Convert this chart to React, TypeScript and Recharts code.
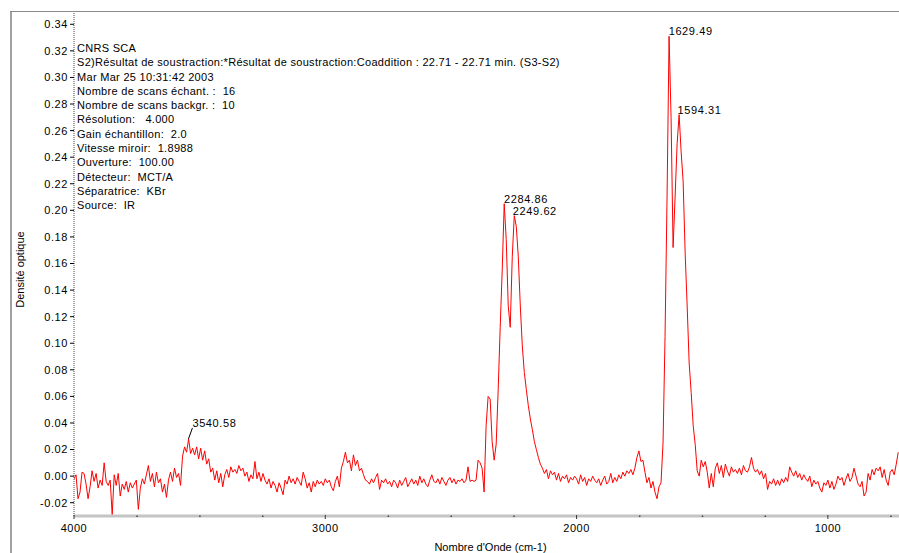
import React from 'react';
import { LineChart, Line, XAxis, YAxis, ReferenceDot } from 'recharts';

// Spectrum sampling: first wavenumber and spacing (cm-1)
const WAVENUMBER_START = 4000;
const WAVENUMBER_STEP = 8;

// Optical density in milli-units (x 0.001)
const region4000to3208 = [
  -2, 1, -17, -12, 3, 2, -6, -17, -8, 4,
  -4, 2, -9, -3, -7, 10, -4, -7, -3, -29,
  1, -7, 2, -15, -6, -10, -4, -12, -5, -9,
  -6, -3, -25, -9, -2, -6, 1, 8, -4, 2,
  -8, 3, -5, -2, -12, -6, -16, -3, 3, -4,
  6, -1, 2, -7, 15, 22, 18, 28, 17, 21,
  16, 22, 13, 21, 12, 19, 9, 13, 3, 6,
  -3, 4, -5, 2, -8, 1, 5, -1, 7, 3,
  5, 2, 8, 4, 6, 0, 3, -4, 1, -2,
  11, -2, 3, -4, 2, -3, -6, -2, -9, -4,
];
const region3200to2408 = [
  -7, -12, -5, -9, -14, -3, -6, 0, -5, -2,
  -6, -1, -4, -7, 3, -2, -9, -5, -12, -4,
  -8, -3, -6, -4, -7, -2, -5, -3, -8, -11,
  -4, 0, -8, 6, 11, 18, 10, 12, 4, 16,
  8, 12, 4, 6, 1, -3, -4, -6, -2, -5,
  -1, 2, -10, -3, -5, -2, -6, -4, -8, -3,
  -5, -9, -3, -7, -4, -1, -8, -5, -2, -6,
  -3, -7, 0, -5, -2, -6, -8, -3, 1, -4,
  -5, -2, -6, -1, -4, -7, -3, -1, -5, -2,
  -6, -3, -4, -2, -5, -3, 7, -4, -3, -4,
];
const region2400to2008 = [
  -3, 12, 10, 6, -12, 38, 60, 58, 26, 12,
  24, 65, 112, 155, 205, 178, 128, 112, 165, 196,
  188, 165, 128, 98, 78, 65, 53, 43, 35, 26,
  20, 14, 9, 6, 2, 5, -2, 4, 1, 3,
  -3, 2, -4, 0, -2, 1, -5, -1, -3, 0,
];
const region2000to1528 = [
  -2, -6, 1, -4, -1, -7, -2, -4, 0, -3,
  -5, -2, -7, -3, 0, -6, -4, 2, -5, -1,
  -4, 1, -2, 3, 0, 4, 2, 5, 1, 6,
  14, 19, 11, 12, 3, -5, -1, -9, -4, -12,
  -17, -8, -5, 25, 105, 210, 331, 270, 172, 210,
  250, 272, 244, 222, 168, 128, 85, 63, 38, 24,
];
const region1520to720 = [
  4, 0, 12, 7, 11, 3, -9, 2, -8, 6,
  10, 2, 8, -1, 9, 4, 0, 7, 3, 5,
  2, 6, 1, 8, 4, 3, 7, 14, 6, 3,
  5, 1, 4, -2, 2, -10, -4, -6, -2, -7,
  -3, -7, -2, -5, -1, -4, 7, 3, 0, 4,
  -1, 2, -3, 1, -2, -4, 0, -8, -3, -6,
  -4, -9, -12, -5, -7, -3, -9, -4, -10, -6,
  0, -3, -1, -7, -2, 2, -4, -1, 6, 0,
  -6, -8, -4, -15, -12, 2, -3, 5, 1, 6,
  4, 7, -1, 5, -3, -7, 3, 5, 1, 9, 18,
];

const peakWavenumbers = [3540.58, 2284.86, 2249.62, 1629.49, 1594.31];
const peakValues = [0.028, 0.205, 0.196, 0.331, 0.272];

const xDomain = [717, 4000];
const yDomain = [-0.03, 0.35];
const xTicks = [4000, 3750, 3500, 3250, 3000, 2750, 2500, 2250, 2000, 1750, 1500, 1250, 1000, 750];
const yTicks = [-0.02, 0, 0.02, 0.04, 0.06, 0.08, 0.1, 0.12, 0.14, 0.16, 0.18, 0.2, 0.22, 0.24, 0.26, 0.28, 0.3, 0.32, 0.34];

const infoLines = [
  'CNRS SCA',
  'S2)Résultat de soustraction:*Résultat de soustraction:Coaddition : 22.71 - 22.71 min. (S3-S2)',
  'Mar Mar 25 10:31:42 2003',
  'Nombre de scans échant. :  16',
  'Nombre de scans backgr. :  10',
  'Résolution:   4.000',
  'Gain échantillon:  2.0',
  'Vitesse miroir:  1.8988',
  'Ouverture:  100.00',
  'Détecteur:  MCT/A',
  'Séparatrice:  KBr',
  'Source:  IR',
];

const xTitle = "Nombre d'Onde (cm-1)";
const yTitle = 'Densité optique';

const spectrum = [
  ...region4000to3208,
  ...region3200to2408,
  ...region2400to2008,
  ...region2000to1528,
  ...region1520to720,
].map((m, i) => ({ w: WAVENUMBER_START - WAVENUMBER_STEP * i, a: m / 1000 }));

const FONT = '"Liberation Sans", Arial, sans-serif';

function XTick(props: any) {
  const { x, y, payload } = props;
  const v = payload.value;
  const major = v % 1000 === 0;
  return (
    <g>
      {major ? (
        <line x1={x} x2={x} y1={y - 1} y2={y + 3} stroke="#333" strokeWidth={1} />
      ) : (
        <rect x={x - 0.5} y={y - 0.5} width={1.5} height={1.5} fill="#444" />
      )}
      {major && (
        <text x={x} y={y + 16} textAnchor="middle" fontSize={11} letterSpacing={0.5} fontFamily={FONT} fill="#000">
          {v}
        </text>
      )}
    </g>
  );
}

function YTick(props: any) {
  const { x, y, payload } = props;
  return (
    <text x={x} y={y} dy="0.355em" textAnchor="end" fontSize={11} letterSpacing={0.6} fontFamily={FONT} fill="#000">
      {Number(payload.value).toFixed(2)}
    </text>
  );
}

function makePeakLabel(text: string, withLeader: boolean) {
  return (props: any) => {
    const vb = props.viewBox || {};
    const cx = (vb.x || 0) + (vb.width || 0) / 2;
    const cy = (vb.y || 0) + (vb.height || 0) / 2;
    if (withLeader) {
      return (
        <g>
          <line x1={cx - 1} y1={cy} x2={cx + 3} y2={cy - 11} stroke="#000" strokeWidth={1} />
          <text x={cx + 3} y={cy - 12} fontSize={11} letterSpacing={0.6} fontFamily={FONT} fill="#000">
            {text}
          </text>
        </g>
      );
    }
    return (
      <text x={cx - 1} y={cy - 1} fontSize={11} letterSpacing={0.6} fontFamily={FONT} fill="#000">
        {text}
      </text>
    );
  };
}

function YTitle(props: any) {
  const vb = props.viewBox || { x: 0, y: 0, width: 0, height: 0 };
  const x = vb.x + 20;
  const y = vb.y + vb.height / 2 + 6;
  return (
    <text x={x} y={y} transform={`rotate(-90, ${x}, ${y})`} textAnchor="middle" dominantBaseline="central" fontSize={11} fontFamily={FONT} fill="#000">
      {yTitle}
    </text>
  );
}

function XTitle(props: any) {
  const vb = props.viewBox || { x: 0, y: 0, width: 0, height: 0 };
  const x = vb.x + vb.width / 2 + 4;
  const y = vb.y + 35;
  return (
    <text x={x} y={y} textAnchor="middle" fontSize={11} fontFamily={FONT} fill="#000">
      {xTitle}
    </text>
  );
}

export default function App() {
  return (
    <div style={{ position: 'absolute', left: 0, top: 0, width: 899, height: 553, background: '#fff', overflow: 'hidden' }}>
      <LineChart width={899} height={553} data={spectrum} margin={{ top: 11, right: 0, bottom: 0, left: 0 }}>
        <XAxis
          dataKey="w"
          type="number"
          domain={xDomain}
          reversed
          ticks={xTicks}
          interval={0}
          allowDataOverflow
          height={37}
          tickSize={0}
          tickMargin={0}
          tickLine={false}
          tick={<XTick />}
          axisLine={{ stroke: '#c4c4c4', strokeWidth: 3 }}
          label={<XTitle />}
        />
        <YAxis
          type="number"
          domain={yDomain}
          ticks={yTicks}
          interval={0}
          allowDataOverflow
          width={74}
          tickSize={4}
          tickMargin={2}
          tickLine={{ stroke: '#000' }}
          axisLine={{ stroke: '#444', strokeDasharray: '1 1' }}
          tick={<YTick />}
          label={<YTitle />}
        />
        <Line
          type="linear"
          dataKey="a"
          stroke="#ff0000"
          strokeWidth={1}
          dot={false}
          activeDot={false}
          isAnimationActive={false}
        />
        {peakWavenumbers.map((w, i) => (
          <ReferenceDot
            key={w}
            x={w}
            y={peakValues[i]}
            r={1}
            fill="none"
            stroke="none"
            label={makePeakLabel(w.toFixed(2), i === 0)}
          />
        ))}
      </LineChart>
      <div style={{ position: 'absolute', left: 10, top: 11, width: 2, height: 542, background: '#a0a0a0' }} />
      <div style={{ position: 'absolute', left: 10, top: 11, width: 889, height: 1, background: '#8a8a8a' }} />
      <div
        style={{
          position: 'absolute',
          left: 77,
          top: 41,
          fontFamily: FONT,
          fontSize: 11,
          lineHeight: '14.3px',
          letterSpacing: '0.3px',
          color: '#000',
          whiteSpace: 'pre',
          pointerEvents: 'none',
        }}
      >
        {infoLines.map((t) => (
          <div key={t}>{t}</div>
        ))}
      </div>
    </div>
  );
}
